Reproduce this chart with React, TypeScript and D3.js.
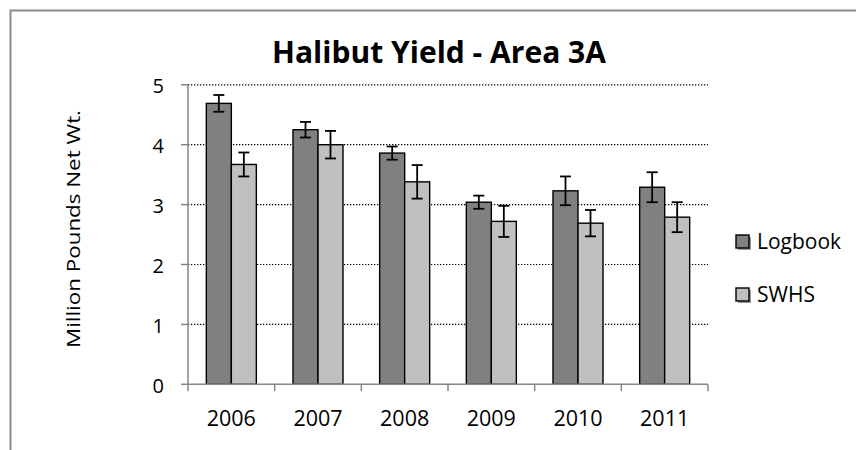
import React from "react";
import * as d3 from "d3";

const years = ["2006", "2007", "2008", "2009", "2010", "2011"];
const seriesNames = ["Logbook", "SWHS"];
const logbook = [4.69, 4.25, 3.86, 3.04, 3.23, 3.29];
const logbookErr = [0.14, 0.13, 0.11, 0.11, 0.24, 0.25];
const swhs = [3.67, 4.0, 3.38, 2.72, 2.69, 2.79];
const swhsErr = [0.2, 0.23, 0.28, 0.26, 0.22, 0.25];
const yTicks = [0, 1, 2, 3, 4, 5];
const colors = ["#808080", "#c0c0c0"];

const W = 856;
const H = 450;
const plot = { left: 188, right: 708, top: 84.8, bottom: 384.3 };
const FONT = "'Open Sans', 'Liberation Sans', sans-serif";

export default function App() {
  const x = d3
    .scaleBand<string>()
    .domain(years)
    .range([plot.left, plot.right])
    .paddingInner(0.423)
    .paddingOuter(0.2115);
  const xs = d3
    .scaleBand<string>()
    .domain(seriesNames)
    .range([0, x.bandwidth()])
    .padding(0);
  const y = d3.scaleLinear().domain([0, 5]).range([plot.bottom, plot.top]);

  const step = x.step();
  const boundaries = d3.range(years.length + 1).map((i) => plot.left + i * step);

  const values = [logbook, swhs];
  const errs = [logbookErr, swhsErr];

  return (
    <svg
      width={W}
      height={H}
      style={{ position: "absolute", left: 0, top: 0, background: "#fff" }}
    >
      <rect x={0} y={0} width={W} height={H} fill="#fff" />
      {/* outer frame */}
      <rect
        x={10.5}
        y={10.5}
        width={W + 20}
        height={H + 20}
        fill="none"
        stroke="#8c8c8c"
        strokeWidth={2}
      />
      {/* title */}
      <text
        x={(272 + 606) / 2}
        y={63}
        textAnchor="middle"
        fontFamily={FONT}
        fontWeight="bold"
        fontSize={30}
        textLength={334}
        lengthAdjust="spacingAndGlyphs"
        fill="#000"
      >
        Halibut Yield - Area 3A
      </text>
      {/* y axis title */}
      <text
        transform={`translate(79.5,229) rotate(-90)`}
        textAnchor="middle"
        fontFamily={FONT}
        fontSize={17.5}
        textLength={238}
        lengthAdjust="spacingAndGlyphs"
        fill="#000"
      >
        Million Pounds Net Wt.
      </text>
      {/* gridlines */}
      {yTicks
        .filter((t) => t > 0)
        .map((t) => (
          <line
            key={"g" + t}
            x1={plot.left}
            x2={plot.right}
            y1={y(t)}
            y2={y(t)}
            stroke="#000"
            strokeWidth={1.2}
            strokeDasharray="1.3,1.7"
          />
        ))}
      {/* bars */}
      {years.map((yr, i) => (
        <g key={yr}>
          {seriesNames.map((s, j) => {
            const bx = (x(yr) as number) + (xs(s) as number);
            const v = values[j][i];
            return (
              <rect
                key={s}
                x={bx}
                y={y(v)}
                width={xs.bandwidth()}
                height={y(0) - y(v)}
                fill={colors[j]}
                stroke="#000"
                strokeWidth={1.4}
              />
            );
          })}
        </g>
      ))}
      {/* error bars */}
      {years.map((yr, i) => (
        <g key={"e" + yr}>
          {seriesNames.map((s, j) => {
            const cx = (x(yr) as number) + (xs(s) as number) + xs.bandwidth() / 2;
            const v = values[j][i];
            const e = errs[j][i];
            const top = y(v + e);
            const bot = y(v - e);
            const cap = 5.5;
            return (
              <g key={s} stroke="#000" strokeWidth={1.8}>
                <line x1={cx} x2={cx} y1={top} y2={bot} />
                <line x1={cx - cap} x2={cx + cap} y1={top} y2={top} />
                <line x1={cx - cap} x2={cx + cap} y1={bot} y2={bot} />
              </g>
            );
          })}
        </g>
      ))}
      {/* y axis */}
      <line
        x1={plot.left}
        x2={plot.left}
        y1={plot.top}
        y2={plot.bottom}
        stroke="#868686"
        strokeWidth={1.5}
      />
      {yTicks.map((t) => (
        <g key={"yt" + t}>
          <line
            x1={plot.left - 7}
            x2={plot.left}
            y1={y(t)}
            y2={y(t)}
            stroke="#868686"
            strokeWidth={1.5}
          />
          <text
            x={164}
            y={y(t) + 8.5}
            textAnchor="end"
            fontFamily={FONT}
            fontSize={20}
            fill="#000"
          >
            {t}
          </text>
        </g>
      ))}
      {/* x axis */}
      <line
        x1={plot.left}
        x2={plot.right}
        y1={plot.bottom}
        y2={plot.bottom}
        stroke="#868686"
        strokeWidth={1.5}
      />
      {boundaries.map((bx, i) => (
        <line
          key={"xt" + i}
          x1={bx}
          x2={bx}
          y1={plot.bottom}
          y2={plot.bottom + 7}
          stroke="#868686"
          strokeWidth={1.5}
        />
      ))}
      {years.map((yr) => (
        <text
          key={"xl" + yr}
          x={(x(yr) as number) + x.bandwidth() / 2}
          y={426}
          textAnchor="middle"
          fontFamily={FONT}
          fontSize={21.5}
          fill="#000"
        >
          {yr}
        </text>
      ))}
      {/* legend */}
      {seriesNames.map((s, j) => {
        const ly = [235, 288][j];
        return (
          <g key={"lg" + s}>
            <rect x={738} y={ly + 2} width={13} height={13} fill="#9a9a9a" />
            <rect
              x={736}
              y={ly}
              width={13}
              height={13}
              fill={colors[j]}
              stroke="#000"
              strokeWidth={1.4}
            />
            <text
              x={757}
              y={ly + 14}
              fontFamily={FONT}
              fontSize={21}
              fill="#000"
            >
              {s}
            </text>
          </g>
        );
      })}
    </svg>
  );
}
